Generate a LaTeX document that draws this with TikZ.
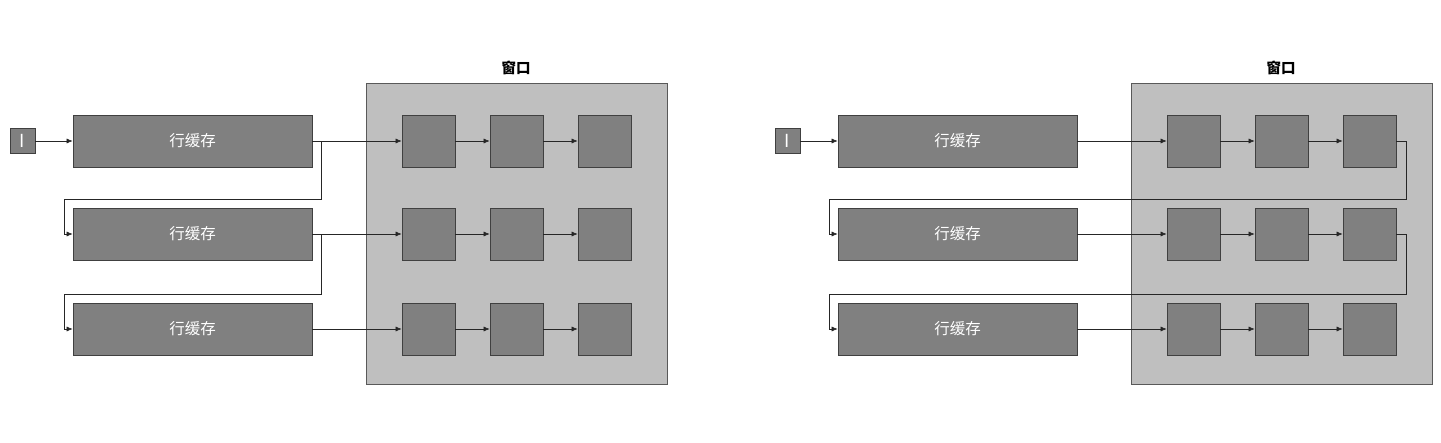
\documentclass[tikz,border=0pt]{standalone}
\usepackage{fontspec}
\setmainfont{Noto Sans CJK SC}
\usetikzlibrary{arrows.meta}

\definecolor{boxfill}{HTML}{808080}
\definecolor{boxline}{HTML}{404040}
\definecolor{winfill}{HTML}{BFBFBF}
\definecolor{winline}{HTML}{595959}
\definecolor{lineclr}{HTML}{262626}

\tikzset{
	cell/.style={draw=boxline, fill=boxfill, line width=0.7pt, minimum width=53pt, minimum height=52pt, inner sep=0pt},
	linebuf/.style={cell, minimum width=239pt, text=white, font=\fontsize{15.5pt}{18pt}\selectfont},
	inbox/.style={cell, minimum width=25pt, minimum height=25pt, text=white, font=\fontsize{18pt}{20pt}\selectfont},
	window/.style={draw=winline, fill=winfill, line width=0.7pt, minimum width=301pt, minimum height=301pt, inner sep=0pt},
	title/.style={font=\fontsize{14.5pt}{17pt}\selectfont\bfseries},
	arr/.style={draw=lineclr, line width=0.6pt, -{Latex[length=6pt,width=5pt]}}
}

\begin{document}
\begin{tikzpicture}[x=1pt,y=-1pt]
		\useasboundingbox (0,0) rectangle (1441,443);
		
		% left: rows fed one after the other
		\node[window] (a-win) at (516.5,233.5) {};
		\node[title] (a-title) at (516,68) {窗口};
		\node[inbox] (a-in) at (22.5,141) {I};
		\foreach \r/\y in {1/141,2/234,3/329}{
			\node[linebuf] (a-buf\r) at (192.5,\y) {行缓存};
			\foreach \c/\x in {1/428.5,2/516.5,3/604.5}{
				\node[cell] (a-sq\r\c) at (\x,\y) {};
			}
			\draw[arr] (a-buf\r) -- (a-sq\r1);
			\draw[arr] (a-sq\r1) -- (a-sq\r2);
			\draw[arr] (a-sq\r2) -- (a-sq\r3);
		}
		\draw[arr] (a-in) -- (a-buf1);
		\draw[arr] (a-buf1.east) -- ++(9,0) -- ++(0,58) -- ++(-257,0) |- (a-buf2.west);
		\draw[arr] (a-buf2.east) -- ++(9,0) -- ++(0,60) -- ++(-257,0) |- (a-buf3.west);
		
		% right: rows fed from the window
		\node[window] (b-win) at (1281.5,233.5) {};
		\node[title] (b-title) at (1281,68) {窗口};
		\node[inbox] (b-in) at (787.5,141) {I};
		\foreach \r/\y in {1/141,2/234,3/329}{
			\node[linebuf] (b-buf\r) at (957.5,\y) {行缓存};
			\foreach \c/\x in {1/1193.5,2/1281.5,3/1369.5}{
				\node[cell] (b-sq\r\c) at (\x,\y) {};
			}
			\draw[arr] (b-buf\r) -- (b-sq\r1);
			\draw[arr] (b-sq\r1) -- (b-sq\r2);
			\draw[arr] (b-sq\r2) -- (b-sq\r3);
		}
		\draw[arr] (b-in) -- (b-buf1);
		\draw[arr] (b-sq13.east) -- ++(10,0) -- ++(0,58) -- ++(-577,0) |- (b-buf2.west);
		\draw[arr] (b-sq23.east) -- ++(10,0) -- ++(0,60) -- ++(-577,0) |- (b-buf3.west);
\end{tikzpicture}
\end{document}
